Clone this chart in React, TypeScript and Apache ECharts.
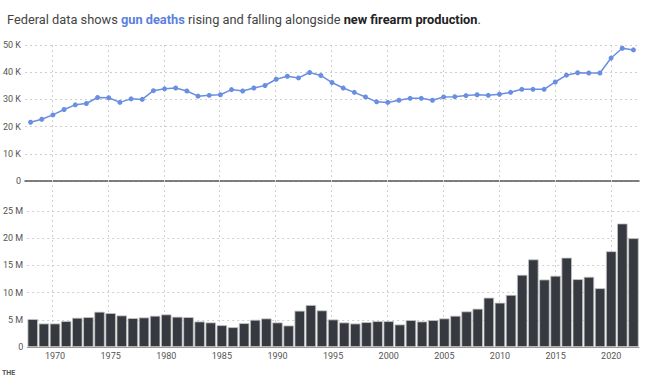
import React, { useEffect, useRef } from "react";
import * as echarts from "echarts";

const years = [
  "1968","1969","1970","1971","1972","1973","1974","1975","1976","1977",
  "1978","1979","1980","1981","1982","1983","1984","1985","1986","1987",
  "1988","1989","1990","1991","1992","1993","1994","1995","1996","1997",
  "1998","1999","2000","2001","2002","2003","2004","2005","2006","2007",
  "2008","2009","2010","2011","2012","2013","2014","2015","2016","2017",
  "2018","2019","2020","2021","2022",
];

// gun deaths, thousands
const gunDeaths = [
  21.6, 22.7, 24.3, 26.3, 28.0, 28.5, 30.7, 30.6, 28.9, 30.2,
  30.0, 33.2, 33.9, 34.2, 33.1, 31.2, 31.5, 31.7, 33.6, 33.1,
  34.2, 35.1, 37.4, 38.5, 37.9, 39.9, 38.8, 36.2, 34.2, 32.6,
  30.9, 29.1, 28.9, 29.7, 30.4, 30.4, 29.7, 30.9, 31.0, 31.4,
  31.7, 31.5, 31.9, 32.6, 33.7, 33.7, 33.7, 36.4, 38.9, 39.8,
  39.7, 39.7, 45.2, 48.8, 48.2,
];

// new firearms produced, millions
const firearms = [
  5.13, 4.32, 4.32, 4.75, 5.37, 5.49, 6.48, 6.23, 5.8, 5.31,
  5.43, 5.74, 5.99, 5.56, 5.49, 4.69, 4.51, 4.01, 3.64, 4.38,
  5.0, 5.25, 4.51, 3.95, 6.67, 7.72, 6.73, 5.06, 4.51, 4.32,
  4.57, 4.75, 4.75, 4.14, 4.94, 4.69, 4.94, 5.25, 5.74, 6.54,
  7.04, 9.07, 8.15, 9.57, 13.27, 16.1, 12.4, 13.09, 16.42, 12.47,
  12.9, 10.8, 17.6, 22.7, 20.0,
];

const deathTicks = { min: 0, max: 50, step: 10, unit: "K" };
const gunTicks = { min: 0, max: 25, step: 5, unit: "M" };

const FONT = "Roboto, 'Noto Sans', sans-serif";
const LABEL = "#555";
const GRID = "#cfcfcf";

export default function App() {
  const ref = useRef<HTMLDivElement>(null);
  useEffect(() => {
    if (!ref.current) return;
    const chart = echarts.init(ref.current, undefined, { renderer: "svg" });
    const half = 615 / years.length / 2;
    const grids = [
      { left: 24, right: 11, top: 45, height: 136 },
      { left: 24, right: 11, top: 211, height: 136 },
      { left: 24 + half, right: 11 + half, top: 45, height: 302 },
    ];
    const every5 = (_i: number, v: string) => Number(v) % 5 === 0;
    chart.setOption({
      animation: false,
      textStyle: { fontFamily: FONT },
      title: {
        left: 2,
        top: 8,
        text: "Federal data shows {b|gun deaths} rising and falling alongside {c|new firearm production}.",
        textStyle: {
          fontFamily: FONT,
          fontSize: 12.8,
          fontWeight: "normal",
          color: "#444",
          rich: {
            b: { fontFamily: FONT, fontSize: 12.8, fontWeight: "bold", color: "#5b80dc" },
            c: { fontFamily: FONT, fontSize: 12.8, fontWeight: "bold", color: "#222" },
          },
        },
      },
      grid: grids,
      xAxis: [
        {
          type: "category",
          gridIndex: 0,
          data: years,
          boundaryGap: true,
          axisLine: { show: true, onZero: true, lineStyle: { color: "#555", width: 1.5 } },
          axisTick: { show: false },
          axisLabel: { show: false },
          splitLine: { show: false },
        },
        {
          type: "category",
          gridIndex: 1,
          data: years,
          boundaryGap: true,
          axisLine: { show: true, lineStyle: { color: "#999", width: 1 } },
          axisTick: { show: false },
          axisLabel: {
            interval: every5,
            color: LABEL,
            fontSize: 9,
            fontFamily: FONT,
            margin: 4,
          },
          splitLine: { show: false },
        },
        {
          type: "category",
          gridIndex: 2,
          data: years,
          boundaryGap: false,
          axisLine: { show: false },
          axisLabel: { show: false },
          axisTick: {
            show: true,
            inside: true,
            length: 302,
            interval: every5,
            lineStyle: { color: GRID, width: 1, type: [2, 3] },
          },
          splitLine: { show: false },
          z: 0,
        },
      ],
      yAxis: [
        {
          type: "value",
          gridIndex: 0,
          min: deathTicks.min,
          max: deathTicks.max,
          interval: deathTicks.step,
          axisLine: { show: false },
          axisTick: { show: false },
          axisLabel: {
            color: LABEL,
            fontSize: 9,
            fontFamily: FONT,
            margin: 4,
            formatter: (v: number) => (v === 0 ? "0" : `${v} ${deathTicks.unit}`),
          },
          splitLine: { show: true, lineStyle: { color: GRID, width: 1, type: [2, 3] } },
        },
        {
          type: "value",
          gridIndex: 1,
          min: gunTicks.min,
          max: gunTicks.max,
          interval: gunTicks.step,
          axisLine: { show: false },
          axisTick: { show: false },
          axisLabel: {
            color: LABEL,
            fontSize: 9,
            fontFamily: FONT,
            margin: 4,
            formatter: (v: number) => (v === 0 ? "0" : `${v} ${gunTicks.unit}`),
          },
          splitLine: { show: true, lineStyle: { color: GRID, width: 1, type: [2, 3] } },
        },
        {
          type: "value",
          gridIndex: 2,
          show: false,
          min: 0,
          max: 1,
          splitLine: { show: false },
        },
      ],
      series: [
        {
          type: "line",
          name: "Gun deaths",
          xAxisIndex: 0,
          yAxisIndex: 0,
          data: gunDeaths,
          symbol: "circle",
          symbolSize: 5,
          showSymbol: true,
          lineStyle: { color: "#6a8fe2", width: 1.5 },
          itemStyle: { color: "#6a8fe2" },
          z: 5,
        },
        {
          type: "bar",
          name: "New firearms",
          xAxisIndex: 1,
          yAxisIndex: 1,
          data: firearms,
          barCategoryGap: "6%",
          itemStyle: { color: "#363940", borderColor: "#c4c4c4", borderWidth: 0.8 },
          z: 5,
        },
      ],
      graphic: [
        {
          type: "text",
          left: 2,
          top: 369,
          style: { text: "THE", fontSize: 7, fontWeight: "bold", fill: "#555", fontFamily: FONT },
        },
      ],
    });
    return () => chart.dispose();
  }, []);
  return (
    <div
      ref={ref}
      style={{ position: "fixed", left: 0, top: 0, width: 650, height: 379, background: "#fff" }}
    />
  );
}
